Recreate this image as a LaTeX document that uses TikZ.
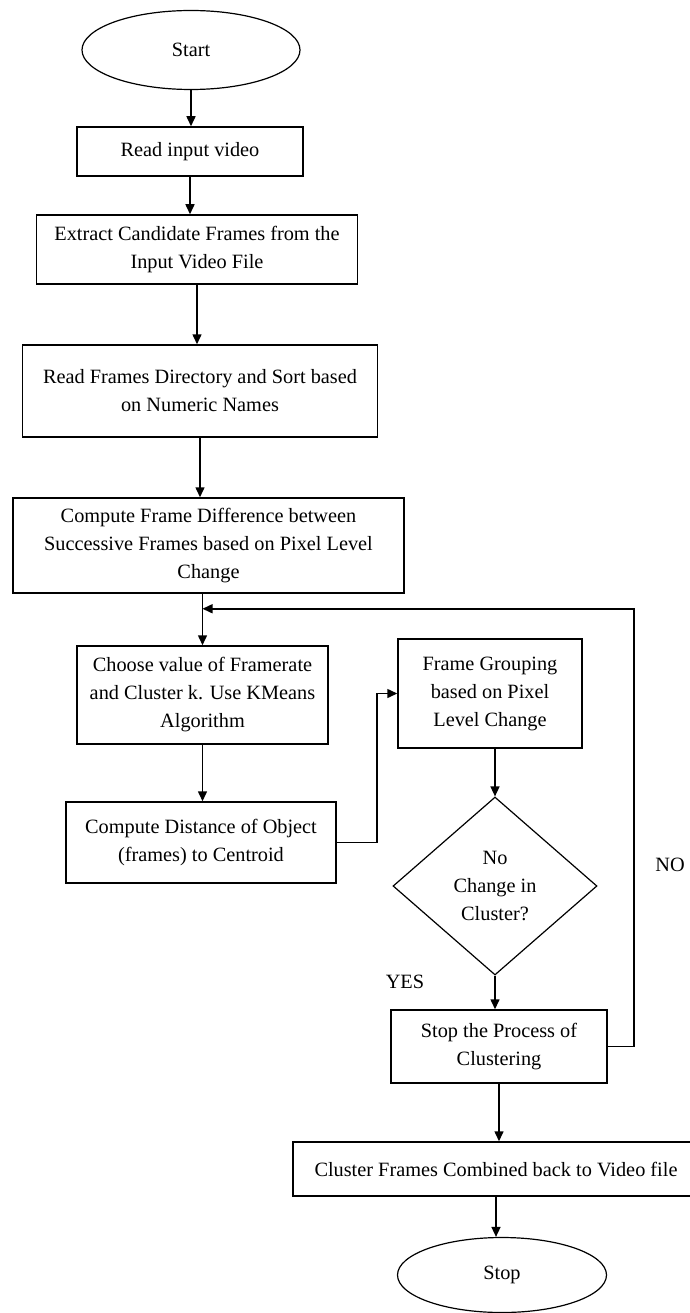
\documentclass[tikz,border=0pt]{standalone}
\usepackage{fontspec}
\setmainfont{Liberation Serif}
\usetikzlibrary{shapes.geometric}
\usetikzlibrary{arrows.meta}
\usetikzlibrary{calc}

\begin{document}
\begin{tikzpicture}[
    x=1pt, y=-1pt,
    flow/.style={draw, rectangle, line width=1.5pt, align=center, inner sep=2pt, font=\fontsize{20.3}{28}\selectfont},
    term/.style={draw, ellipse, line width=1.2pt, inner sep=0pt, font=\fontsize{20.3}{28}\selectfont},
    decide/.style={draw, diamond, line width=1.2pt, inner sep=0pt, align=center, font=\fontsize{20.3}{28}\selectfont},
    tag/.style={font=\fontsize{20.3}{28}\selectfont},
    link/.style={->, line width=1.5pt},
    >={Triangle[length=10pt, width=9pt]}
]
    \useasboundingbox (0,0) rectangle (689,1313);

    \node[term, minimum width=218pt, minimum height=79pt] (start) at (191,50) {Start};
    \node[flow, minimum width=226pt, minimum height=49pt] (read) at (190,151.5) {Read input video};
    \node[flow, minimum width=321pt, minimum height=69pt] (extract) at (197,249.5)
        {Extract Candidate Frames from the\\Input Video File};
    \node[flow, minimum width=355pt, minimum height=92pt] (frames) at (200,391)
        {Read Frames Directory and Sort based\\on Numeric Names};
    \node[flow, minimum width=391pt, minimum height=95pt] (diff) at (208.5,545.5)
        {Compute Frame Difference between\\Successive Frames based on Pixel Level\\Change};
    \node[flow, minimum width=251pt, minimum height=98pt] (choose) at (202.5,695)
        {Choose value of Framerate\\and Cluster k. Use KMeans\\Algorithm};
    \node[flow, minimum width=270pt, minimum height=81pt] (dist) at (201,842.5)
        {Compute Distance of Object\\(frames) to Centroid};

    \node[flow, minimum width=184pt, minimum height=109pt] (group) at (490,693.5)
        {Frame Grouping\\based on Pixel\\Level Change};
    \node[decide, minimum width=204pt, minimum height=178pt] (check) at (495,886)
        {No\\Change in\\Cluster?};
    \node[flow, minimum width=216pt, minimum height=73pt] (halt) at (499,1046.5)
        {Stop the Process of\\Clustering};
    \node[flow, minimum width=406pt, minimum height=54pt] (combine) at (496,1169)
        {Cluster Frames Combined back to Video file};
    \node[term, minimum width=209pt, minimum height=75pt] (stop) at (502,1275) {Stop};

    \node[tag] (yes) at (405,982) {YES};
    \node[tag] (no) at (670,865) {NO};

    % main column
    \draw[link] (start) -- (start |- read.north);
    \draw[link] (read) -- (read |- extract.north);
    \draw[link] (extract) -- (extract |- frames.north);
    \draw[link] (frames) -- (frames |- diff.north);
    \coordinate (join) at ($(choose |- diff.south)+(0,15)$);
    \draw[link] (choose |- diff.south) -- (choose);
    \draw[link] (choose) -- (choose |- dist.north);
    \draw[link] (dist.east) -- ++(40,0) |- (group.west);

    % decision column
    \draw[link] (check |- group.south) -- (check.north);
    \draw[link] (check) -- (check |- halt.north);
    \draw[link] (halt) -- (halt |- combine.north);
    \draw[link] (combine) -- (combine |- stop.north);
    \draw[link] (halt.east) -- ++(26,0) |- (join);
\end{tikzpicture}
\end{document}
